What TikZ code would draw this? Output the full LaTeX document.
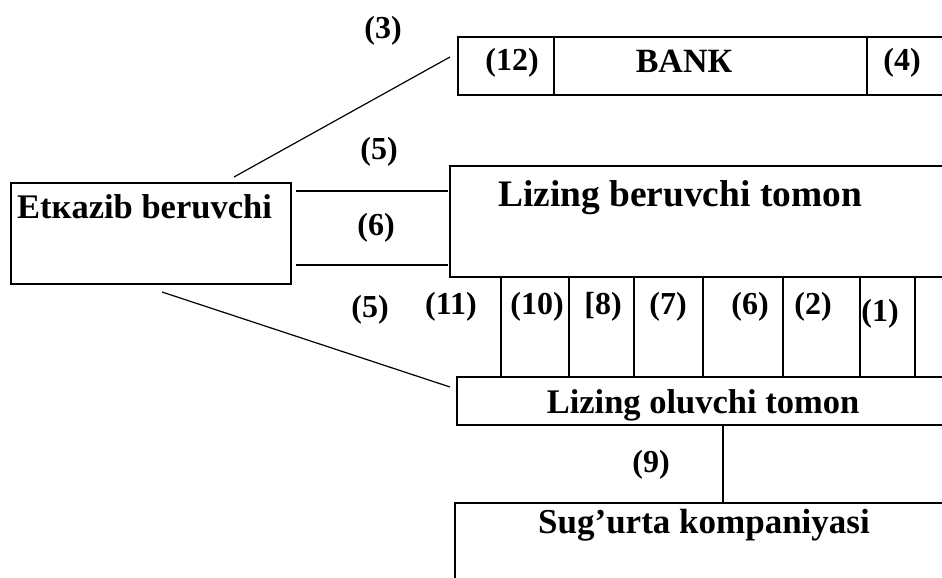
\documentclass[tikz,border=0pt]{standalone}
\usepackage{fontspec}
\setmainfont{Liberation Serif}
\tikzset{
  box/.style={draw, line width=1.2pt, inner sep=0pt, outer sep=0pt, anchor=north west},
  ln/.style={line width=1.2pt},
  lbl/.style={font=\fontsize{32}{32}\selectfont\bfseries, inner sep=0pt},
  big/.style={font=\fontsize{35}{35}\selectfont\bfseries, inner sep=0pt}
}
\begin{document}
\begin{tikzpicture}[x=1pt,y=-1pt]
\useasboundingbox (0,0) rectangle (942,578);
\clip (0,0) rectangle (942,578);
% boxes
\node[box, minimum width=540pt, minimum height=58pt] (bank) at (458,37) {};
\node[box, minimum width=280pt, minimum height=101pt] (etk) at (11,183) {};
\node[box, minimum width=540pt, minimum height=111pt] (lb) at (450,166) {};
\node[box, minimum width=540pt, minimum height=48pt] (lo) at (457,377) {};
\node[box, minimum width=540pt, minimum height=120pt] (sug) at (455,503) {};
% bank dividers
\draw[ln] (554,37) -- (554,95);
\draw[ln] (867,37) -- (867,95);
% column dividers
\foreach \xx in {501,569,634,703,783,860,915}{\draw[ln] (\xx,277) -- (\xx,377);}
% texts
\node[lbl] (t3) at (383,31) {(3)};
\node[lbl] (t12) at (512,63) {(12)};
\node[lbl, font=\fontsize{34}{34}\selectfont\bfseries, anchor=base] (tbank) at (684,73) {BANК};
\node[lbl] (t4) at (902,63) {(4)};
\node[big, font=\fontsize{34.5}{34.5}\selectfont\bfseries, anchor=base west] (tetk) at (17,218) {Etкazib beruvchi};
\node[big, font=\fontsize{37.4}{37.4}\selectfont\bfseries, anchor=base] (tlb) at (680,206) {Lizing beruvchi tomon};
\node[big, font=\fontsize{34.5}{34.5}\selectfont\bfseries, anchor=base] (tlo) at (703,413) {Lizing oluvchi tomon};
\node[big, anchor=base] (tsug) at (704,533) {Sug’urta kompaniyasi};
\node[lbl] (t5a) at (379,152) {(5)};
\node[lbl] (t6a) at (376,228) {(6)};
\node[lbl] (t5b) at (370,310) {(5)};
\node[lbl] (t11) at (451,307) {(11)};
\node[lbl] (t10) at (537,307) {(10)};
\node[lbl] (t8) at (603,307) {[8)};
\node[lbl] (t7) at (668,307) {(7)};
\node[lbl] (t6b) at (750,307) {(6)};
\node[lbl] (t2) at (813,307) {(2)};
\node[lbl] (t1) at (880,314) {(1)};
\node[lbl] (t9) at (651,465) {(9)};
% connectors
\coordinate (a1) at (234,177);
\coordinate (a2) at (450,57);
\draw[ln] (a1) -- (a2);
\coordinate (b1) at (296,191);
\coordinate (b2) at (448,191);
\draw[ln] (b1) -- (b2);
\coordinate (c1) at (296,265);
\coordinate (c2) at (448,265);
\draw[ln] (c1) -- (c2);
\coordinate (d1) at (162,292);
\coordinate (d2) at (450,387);
\draw[ln] (d1) -- (d2);
\draw[ln] (lo.south west -| 723,0) -- (sug.north west -| 723,0);
\end{tikzpicture}
\end{document}
